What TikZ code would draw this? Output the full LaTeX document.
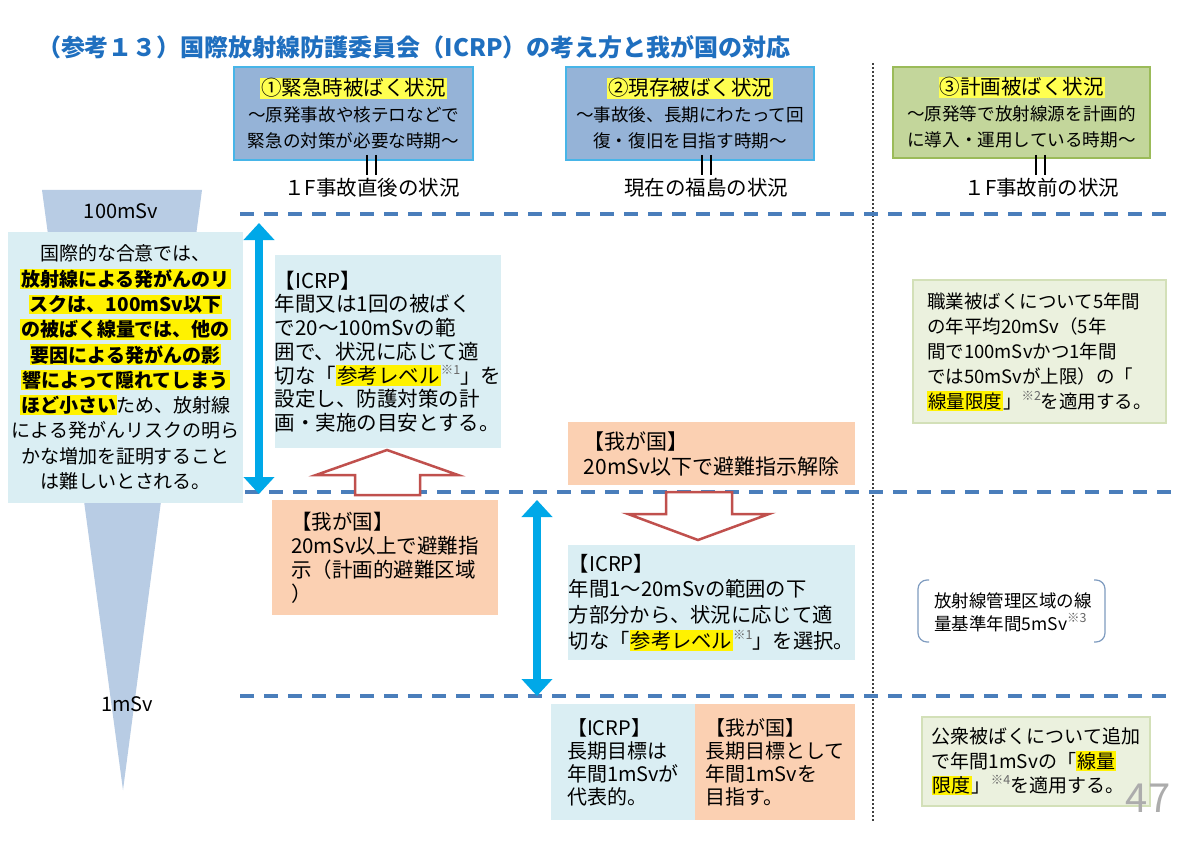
\documentclass[tikz,border=0pt]{standalone}
\usepackage{fontspec}
\setmainfont{Noto Sans CJK JP}
\usetikzlibrary{arrows.meta}
\definecolor{ttl}{HTML}{1F6FBF}
\definecolor{hdrb}{HTML}{95B3D7}
\definecolor{hdrbd}{HTML}{47B5E8}
\definecolor{hdrg}{HTML}{C3D69B}
\definecolor{hdrgd}{HTML}{9BBB59}
\definecolor{icrpc}{HTML}{DAEEF3}
\definecolor{jpc}{HTML}{FBD0B2}
\definecolor{grnc}{HTML}{EBF1DE}
\definecolor{grnd}{HTML}{D3E0B8}
\definecolor{dashc}{HTML}{4A7EBB}
\definecolor{arrblue}{HTML}{00A8E8}
\definecolor{funnelc}{HTML}{B8CCE4}
\definecolor{harr}{HTML}{C0504D}
\definecolor{glowy}{HTML}{FFFF50}
\definecolor{brkc}{HTML}{7F9CC0}
\setlength{\fboxsep}{1pt}
\newcommand{\fz}[2]{\fontsize{#1}{#2}\selectfont}
\newcommand{\hlY}[1]{\colorbox{yellow}{#1}}
\newcommand{\hlG}[1]{\colorbox{glowy}{#1}}
\newcommand{\hlB}[1]{\colorbox{yellow}{\bfseries #1}}
\newcommand{\kome}[1]{\raisebox{0.42em}{\color{black!60}\fz{12.5}{12.5}※#1}}
\begin{document}
\begin{tikzpicture}[x=1pt,y=-1pt,
  every node/.style={inner sep=0pt, outer sep=0pt},
  hbox/.style={draw=hdrbd, line width=1.2pt, align=center, font=\fz{17.6}{26}},
  gbox/.style={draw=hdrgd, line width=1.2pt, align=center, font=\fz{17.6}{26}},
  cbox/.style={align=left, font=\fz{20.5}{23.7}},
  lbl/.style={font=\fz{20.5}{22}},
  dashline/.style={draw=dashc, line width=3.5pt, dash pattern=on 14pt off 10pt},
  dotline/.style={draw=black!75, line width=1.3pt, dash pattern=on 2pt off 2pt},
  barrow/.style={draw=arrblue, line width=8pt, arrows={Triangle[width=30pt,length=17pt]-Triangle[width=30pt,length=17pt]}},
  harrow/.style={draw=harr, fill=white, line width=2.5pt, line join=miter},
  eqbar/.style={draw=black, line width=1.4pt},
  brk/.style={draw=brkc, line width=1.2pt, rounded corners=9pt}]
\useasboundingbox (0,0) rectangle (1200,848);
\fill[white] (0,0) rectangle (1200,848);

% title
\node[anchor=west, font=\fz{24}{26}\bfseries, text=ttl] (title) at (37,47) {（参考１３）国際放射線防護委員会（ICRP）の考え方と我が国の対応};

% vertical dotted separator
\coordinate (v1) at (873,63);
\coordinate (v2) at (873,822);
\draw[dotline] (v1) -- (v2);

% header boxes
\node[hbox, fill=hdrb, minimum width=239, minimum height=93] (h1) at (353.5,113.5)
  {\hlG{\fz{20.5}{26}①緊急時被ばく状況}\\～原発事故や核テロなどで\\緊急の対策が必要な時期～};
\node[hbox, fill=hdrb, minimum width=248, minimum height=93] (h2) at (690,113.5)
  {\hlG{\fz{20.5}{26}②現存被ばく状況}\\～事故後、長期にわたって回\\復・復旧を目指す時期～};
\node[gbox, fill=hdrg, minimum width=257, minimum height=91] (h3) at (1021.5,112.5)
  {\hlG{\fz{20.5}{26}③計画被ばく状況}\\～原発等で放射線源を計画的\\に導入・運用している時期～};

% equal bars
\coordinate (e1a) at (367,155); \coordinate (e1b) at (367,175);
\coordinate (e1c) at (376,155); \coordinate (e1d) at (376,175);
\draw[eqbar] (e1a) -- (e1b); \draw[eqbar] (e1c) -- (e1d);
\coordinate (e2a) at (702,155); \coordinate (e2b) at (702,175);
\coordinate (e2c) at (711,155); \coordinate (e2d) at (711,175);
\draw[eqbar] (e2a) -- (e2b); \draw[eqbar] (e2c) -- (e2d);
\coordinate (e3a) at (1036,155); \coordinate (e3b) at (1036,175);
\coordinate (e3c) at (1045,155); \coordinate (e3d) at (1045,175);
\draw[eqbar] (e3a) -- (e3b); \draw[eqbar] (e3c) -- (e3d);

\node[lbl] (l1) at (372,188) {１F事故直後の状況};
\node[lbl] (l2) at (706,188) {現在の福島の状況};
\node[lbl] (l3) at (1042,188) {１F事故前の状況};

% funnel
\fill[funnelc] (42,190) -- (202,190) -- (123,790) -- cycle;
\node[font=\fz{20}{22}] (m100) at (121,211) {100mSv};
\node[font=\fz{20}{22}] (m1) at (127,704) {1mSv};

% dashed level lines
\coordinate (d1l) at (240,214); \coordinate (d1r) at (1172,214);
\coordinate (d2l) at (245,492); \coordinate (d2r) at (1175,492);
\coordinate (d3l) at (240,696); \coordinate (d3r) at (1170,696);
\draw[dashline] (d1l) -- (d1r);
\draw[dashline] (d2l) -- (d2r);
\draw[dashline] (d3l) -- (d3r);

% left explanation box
\node[fill=icrpc, minimum width=235, minimum height=271, align=center, font=\fz{19}{25.3}] (lb) at (125.5,367.5)
  {国際的な合意では、\\
   \hlB{放射線による発がんのリ}\\
   \hlB{スクは、100mSv以下}\\
   \hlB{の被ばく線量では、他の}\\
   \hlB{要因による発がんの影}\\
   \hlB{響によって隠れてしまう}\\
   \hlB{ほど小さい}ため、放射線\\
   による発がんリスクの明ら\\
   かな増加を証明すること\\
   は難しいとされる。};

% blue double arrows
\coordinate (a1t) at (259,223); \coordinate (a1b) at (259,494);
\draw[barrow] (a1t) -- (a1b);
\coordinate (a2t) at (537,500); \coordinate (a2b) at (537,696);
\draw[barrow] (a2t) -- (a2b);

% ICRP box 1
\node[cbox, fill=icrpc, minimum width=226, minimum height=193] (ic1) at (388,351.5)
  {【ICRP】\\
   年間又は1回の被ばく\\
   で20～100mSvの範\\
   囲で、状況に応じて適\\
   切な「\hlY{参考レベル}\kome{1}」を\\
   設定し、防護対策の計\\
   画・実施の目安とする。};

% Japan box 1
\node[cbox, fill=jpc, minimum width=226, minimum height=115, font=\fz{20.5}{24}] (jp1) at (385,557.5)
  {【我が国】\\
   20mSv以上で避難指\\
   示（計画的避難区域\\
   ）};

% Japan box 2
\node[cbox, fill=jpc, minimum width=287, minimum height=63, font=\fz{21}{25}] (jp2) at (711.5,453.5)
  {【我が国】\\
   20mSv以下で避難指示解除};

% ICRP box 2
\node[cbox, fill=icrpc, minimum width=287, minimum height=115, font=\fz{20.3}{25.7}] (ic2) at (711.5,602.5)
  {【ICRP】\\
   年間1～20mSvの範囲の下\\
   方部分から、状況に応じて適\\
   切な「\hlY{参考レベル}\kome{1}」を選択。};

% hollow arrows
\draw[harrow] (387,450) -- (458,475) -- (420,475) -- (420,495) -- (355,495) -- (355,475) -- (316,475) -- cycle;
\draw[harrow] (666,492) -- (732,492) -- (732,514) -- (769,514) -- (698,540) -- (628,514) -- (666,514) -- cycle;

% bottom boxes
\node[cbox, fill=icrpc, minimum width=144, minimum height=116, font=\fz{20}{23}] (ic3) at (623,762)
  {【ICRP】\\
   長期目標は\\
   年間1mSvが\\
   代表的。};
\node[cbox, fill=jpc, minimum width=160, minimum height=116, font=\fz{20}{23}] (jp3) at (775,762)
  {【我が国】\\
   長期目標として\\
   年間1mSvを\\
   目指す。};

% right column
\node[cbox, fill=grnc, draw=grnd, line width=1.2pt, minimum width=253, minimum height=143, font=\fz{18.5}{25}] (g1) at (1039.5,351.5)
  {職業被ばくについて5年間\\
   の年平均20mSv（5年\\
   間で100mSvかつ1年間\\
   では50mSvが上限）の「\\
   \hlY{線量限度}」\kome{2}を適用する。};

\node[cbox, font=\fz{17.5}{23}] (bt) at (1013,612)
  {放射線管理区域の線\\
   量基準年間5mSv\kome{3}};
\draw[brk] (929,580) -- (918,580) -- (918,642) -- (929,642);
\draw[brk] (1094,580) -- (1105,580) -- (1105,642) -- (1094,642);

\node[cbox, fill=grnc, draw=grnd, line width=1.2pt, minimum width=228, minimum height=89, font=\fz{19}{24.5}] (g2) at (1036,761.5)
  {公衆被ばくについて追加\\
   で年間1mSvの「\hlY{線量}\\
   \hlY{限度}」\kome{4}を適用する。};

\node[font=\fz{40}{40}, text=gray!65] (pg) at (1148,798) {47};
\end{tikzpicture}
\end{document}
